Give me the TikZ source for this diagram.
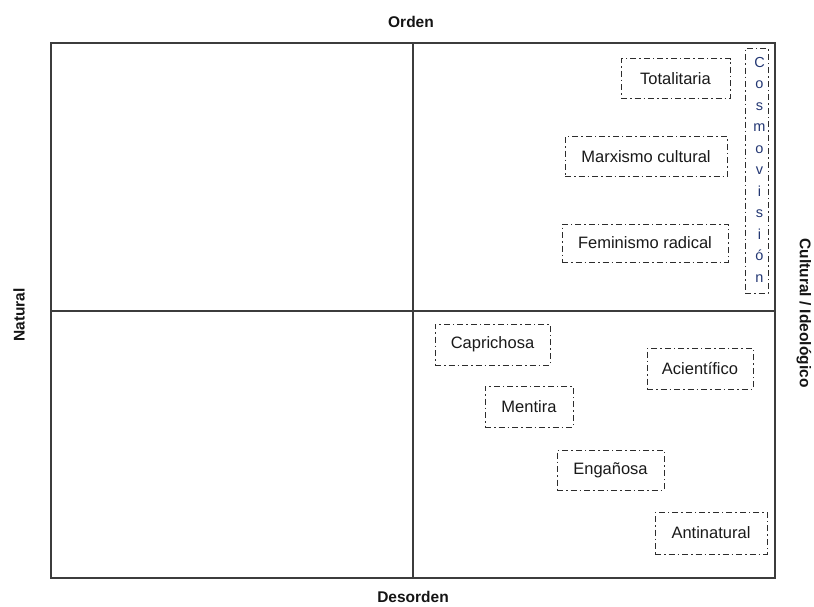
\documentclass[tikz,border=0pt]{standalone}
\usepackage{fontspec}
\setmainfont{Liberation Sans}
\begin{document}
\begin{tikzpicture}[x=1pt,y=-1pt,
  frame/.style={draw={rgb,255:red,60;green,60;blue,60}, line width=1.4pt},
  axislabel/.style={font=\fontsize{15.5}{17}\selectfont\bfseries, text={rgb,255:red,20;green,20;blue,20}},
  tagbox/.style={draw={rgb,255:red,45;green,45;blue,45}, line width=0.9pt,
    dash pattern=on 6pt off 3pt on 1.5pt off 3pt,
    font=\fontsize{16.5}{18}\selectfont, text={rgb,255:red,25;green,25;blue,25},
    inner sep=0pt, minimum height=40pt}
]
\useasboundingbox (0,0) rectangle (814,606);

% quadrant frame
\coordinate (tl) at (51,43);
\coordinate (br) at (775,578);
\coordinate (top) at (413,43);
\coordinate (bot) at (413,578);
\coordinate (lft) at (51,311);
\coordinate (rgt) at (775,311);
\draw[frame] (tl) rectangle (br);
\draw[frame] (top) -- (bot);
\draw[frame] (lft) -- (rgt);

% axis labels
\node[axislabel] (orden) at (411,22) {Orden};
\node[axislabel] (desorden) at (413,596.5) {Desorden};
\node[axislabel, rotate=90] (natural) at (19,315) {Natural};
\node[axislabel, rotate=-90] (cultural) at (804,313) {Cultural / Ideológico};

% upper right quadrant
\node[tagbox, minimum width=109pt] (totalitaria) at (675.5,78.5) {Totalitaria};
\node[tagbox, minimum width=162pt] (marxismo) at (646,156.5) {Marxismo cultural};
\node[tagbox, minimum width=166pt, minimum height=38pt] (feminismo) at (645,243) {Feminismo radical};
\node[tagbox, minimum width=23pt, minimum height=245pt] (cosmo) at (756.5,170.5) {};
\node[font=\fontsize{14.5}{21.5}\selectfont, text={rgb,255:red,35;green,55;blue,115},
      align=center, inner sep=0pt] (cosmotext) at (759.5,169.5)
  {C\\o\\s\\m\\o\\v\\i\\s\\i\\ó\\n};

% lower right quadrant
\node[tagbox, minimum width=115pt, minimum height=41pt] (caprichosa) at (492.5,344.5) {Caprichosa};
\node[tagbox, minimum width=106pt, minimum height=41pt] (acientifico) at (700,368.5) {Acientífico};
\node[tagbox, minimum width=88pt, minimum height=41pt] (mentira) at (529,406.5) {Mentira};
\node[tagbox, minimum width=107pt] (enganosa) at (610.5,470) {Engañosa};
\node[tagbox, minimum width=112pt, minimum height=42pt] (antinatural) at (711,533) {Antinatural};
\end{tikzpicture}
\end{document}
